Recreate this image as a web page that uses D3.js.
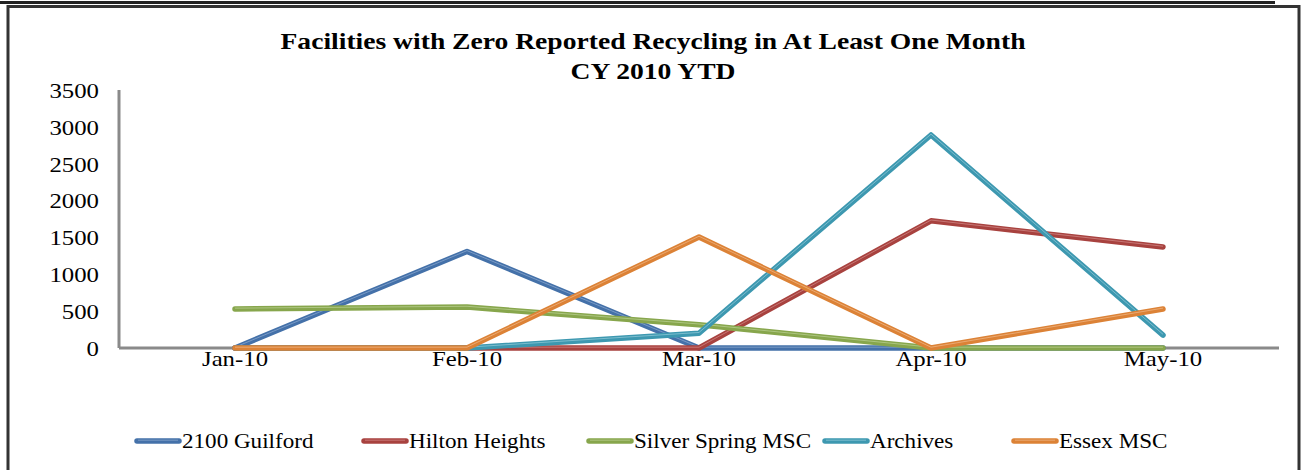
<!DOCTYPE html>
<html>
<head>
<meta charset="utf-8">
<script src="https://cdn.jsdelivr.net/npm/d3@7"></script>
<style>
    body { margin: 0; background: #fff; }
    text { font-family: "Liberation Serif", "Times New Roman", serif; fill: #000; }
</style>
</head>
<body>
<div class="chart"></div>
<script>
// data
const months = ["Jan-10", "Feb-10", "Mar-10", "Apr-10", "May-10"];
const seriesNames = ["2100 Guilford", "Hilton Heights", "Silver Spring MSC", "Archives", "Essex MSC"];
const guilford = [0, 1310, 0, 0, 0];
const hilton = [0, 0, 0, 1725, 1370];
const silverSpring = [530, 555, 315, 0, 0];
const archives = [0, 0, 200, 2890, 175];
const essex = [0, 0, 1505, 0, 530];
const yTicks = [0, 500, 1000, 1500, 2000, 2500, 3000, 3500];

const colors = ["#4471a9", "#a8423f", "#87a64c", "#3d98b0", "#dc8236"];
const highlights = ["#9cb6d8", "#dc9a98", "#c7dba3", "#a5d6e3", "#f3c39a"];

const width = 1301, height = 470;
const sx = 1.18; // reference text is stretched horizontally

const svg = d3.select(".chart")
    .append("svg")
    .attr("width", width)
    .attr("height", height);

// frame
svg.append("line")
    .attr("x1", 0).attr("x2", 1275).attr("y1", 2.5).attr("y2", 2.5)
    .attr("stroke", "#222").attr("stroke-width", 3);
svg.append("rect")
    .attr("x", 8).attr("y", 6.5).attr("width", 1291).attr("height", 470)
    .attr("fill", "none").attr("stroke", "#333").attr("stroke-width", 3);

// title
const title = svg.append("text")
    .attr("text-anchor", "middle")
    .attr("font-weight", "bold")
    .attr("font-size", 23)
    .attr("transform", `translate(653,0) scale(1.2,1)`);
title.append("tspan").attr("x", 0).attr("y", 49).text("Facilities with Zero Reported Recycling in At Least One Month");
title.append("tspan").attr("x", 0).attr("y", 79).text("CY 2010 YTD");

// scales
const x = d3.scaleBand().domain(months).range([119, 1279]);
const y = d3.scaleLinear().domain([0, 3500]).range([348, 90]);

// y axis
const yAxis = svg.append("g")
    .attr("transform", "translate(119,0)")
    .call(d3.axisLeft(y).tickValues(yTicks).tickFormat(d3.format("d")).tickSize(0).tickPadding(0));
yAxis.select(".domain").remove();
yAxis.selectAll("text")
    .attr("font-family", "Liberation Serif")
    .attr("font-size", 21)
    .attr("fill", "#000")
    .attr("x", 0)
    .attr("dy", "0.35em")
    .attr("transform", `translate(-20,0) scale(${sx},1)`);

svg.append("line")
    .attr("x1", 119).attr("x2", 119).attr("y1", 90).attr("y2", 348)
    .attr("stroke", "#8a8a8a").attr("stroke-width", 3);

// x axis
const xAxis = svg.append("g")
    .attr("transform", "translate(0,348)")
    .call(d3.axisBottom(x).tickSize(0).tickPadding(0));
xAxis.select(".domain").remove();
xAxis.selectAll("text")
    .attr("font-family", "Liberation Serif")
    .attr("font-size", 21)
    .attr("fill", "#000")
    .attr("y", 0)
    .attr("dy", 0)
    .attr("transform", `translate(0,18) scale(${sx},1)`);

svg.append("line")
    .attr("x1", 119).attr("x2", 1279).attr("y1", 348).attr("y2", 348)
    .attr("stroke", "#8a8a8a").attr("stroke-width", 3);

// lines
const allSeries = [guilford, hilton, silverSpring, archives, essex];
const line = d3.line()
    .x((d, i) => x(months[i]) + x.bandwidth() / 2)
    .y(d => y(d));

allSeries.forEach((values, k) => {
    svg.append("path")
        .datum(values)
        .attr("d", line)
        .attr("fill", "none")
        .attr("stroke", colors[k])
        .attr("stroke-width", 5.5)
        .attr("stroke-linejoin", "round")
        .attr("stroke-linecap", "round");
    svg.append("path")
        .datum(values)
        .attr("d", line)
        .attr("transform", "translate(0,-0.8)")
        .attr("fill", "none")
        .attr("stroke", highlights[k])
        .attr("stroke-opacity", 0.6)
        .attr("stroke-width", 1)
        .attr("stroke-linejoin", "round");
});

// legend
const legendX = [135, 362, 587, 823, 1012];
const legend = svg.append("g");
seriesNames.forEach((name, k) => {
    const g = legend.append("g").attr("transform", `translate(${legendX[k]},441)`);
    g.append("line")
        .attr("x1", 2).attr("x2", 44).attr("y1", 0).attr("y2", 0)
        .attr("stroke", colors[k]).attr("stroke-width", 5.5)
        .attr("stroke-linecap", "round");
    g.append("line")
        .attr("x1", 3).attr("x2", 43).attr("y1", -0.8).attr("y2", -0.8)
        .attr("stroke", highlights[k]).attr("stroke-opacity", 0.6).attr("stroke-width", 1);
    g.append("text")
        .attr("font-size", 21)
        .attr("dy", "0.35em")
        .attr("transform", `translate(47,0) scale(1.1,1)`)
        .text(name);
});
</script>
</body>
</html>
